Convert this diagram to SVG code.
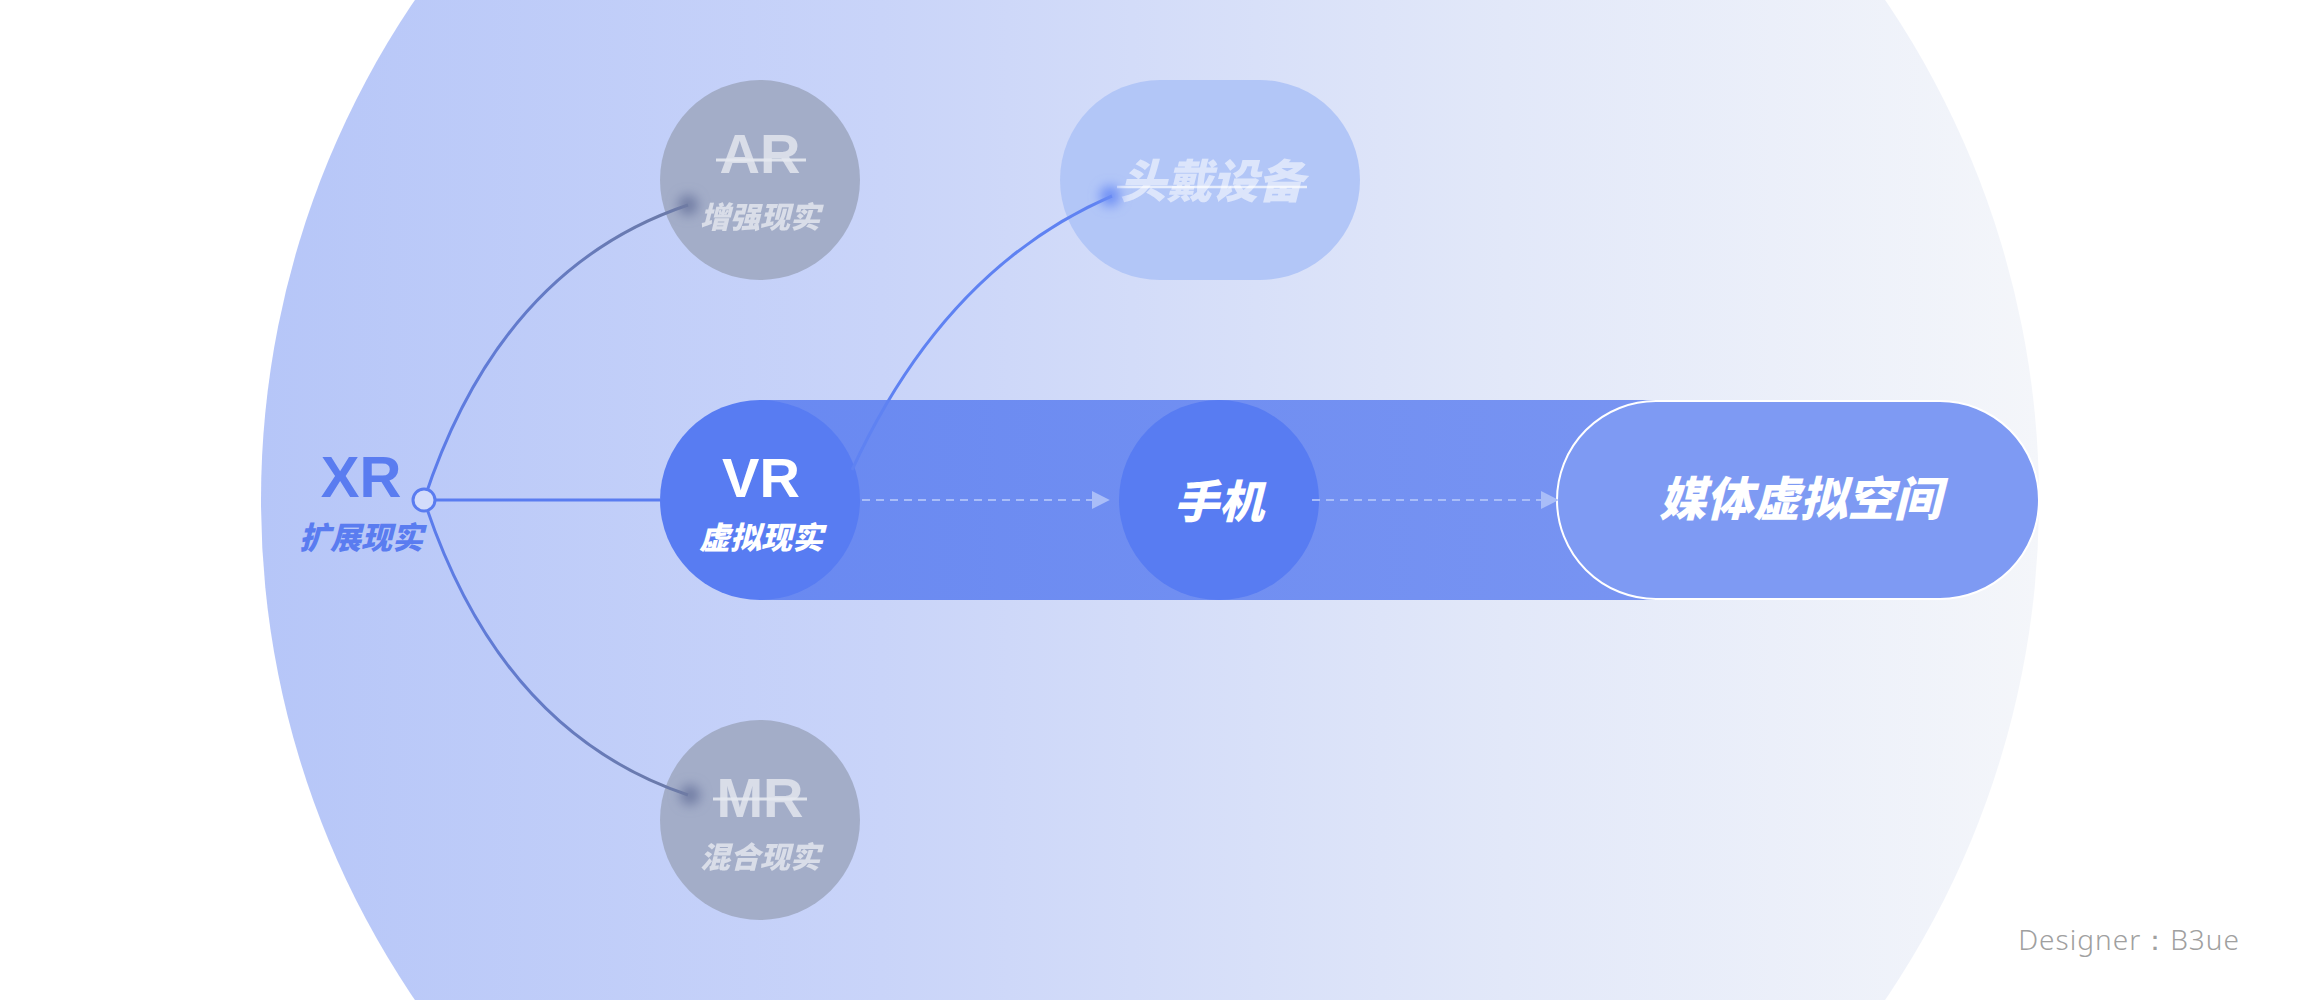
<svg xmlns="http://www.w3.org/2000/svg" width="2300" height="1000" viewBox="0 0 2300 1000">
<defs>
  <linearGradient id="bgGrad" x1="261" y1="0" x2="2039" y2="0" gradientUnits="userSpaceOnUse">
    <stop offset="0" stop-color="#b6c6f8"/>
    <stop offset="0.35" stop-color="#c9d4f9"/>
    <stop offset="0.7" stop-color="#e2e8f9"/>
    <stop offset="1" stop-color="#f4f6fa"/>
  </linearGradient>
  <linearGradient id="bandGrad" x1="760" y1="0" x2="1660" y2="0" gradientUnits="userSpaceOnUse">
    <stop offset="0" stop-color="#6989f1"/>
    <stop offset="1" stop-color="#7894f2"/>
  </linearGradient>
  <linearGradient id="arLine" x1="424" y1="500" x2="690" y2="205" gradientUnits="userSpaceOnUse">
    <stop offset="0" stop-color="#5a7cf0"/>
    <stop offset="1" stop-color="#6c7aa6"/>
  </linearGradient>
  <linearGradient id="mrLine" x1="424" y1="500" x2="690" y2="795" gradientUnits="userSpaceOnUse">
    <stop offset="0" stop-color="#5a7cf0"/>
    <stop offset="1" stop-color="#6c7aa6"/>
  </linearGradient>
  <filter id="blur" x="-2" y="-2" width="5" height="5">
    <feGaussianBlur stdDeviation="6"/>
  </filter>
  <marker id="arrow" viewBox="0 0 10 10" refX="9" refY="5" markerWidth="18" markerHeight="18" markerUnits="userSpaceOnUse" orient="auto">
    <path d="M0 0 L10 5 L0 10 Z" fill="#a9bdf8"/>
  </marker>
  <style>
    .en{font-family:"Liberation Sans","Noto Sans",sans-serif;font-weight:700;text-anchor:middle}
    .cn{font-family:"Noto Sans CJK SC","Noto Sans",sans-serif;font-weight:900;font-style:italic;text-anchor:middle}
    .w{fill:#ffffff}
    .ghost{fill:#e3e6ee;opacity:0.85}
    .conn{fill:none;stroke-width:3}
    .dash{fill:none;stroke:#a9bdf8;stroke-width:2;stroke-dasharray:8 6}
  </style>
</defs>

<rect x="0" y="0" width="2300" height="1000" fill="#ffffff"/>
<circle id="bg" cx="1150" cy="500" r="889" fill="url(#bgGrad)"/>

<g id="band">
  <rect x="760" y="400" width="900" height="200" fill="url(#bandGrad)"/>
</g>

<g id="node-xr">
  <text class="en" x="361" y="497" font-size="58" fill="#5a7cf0">XR</text>
  <text class="cn" x="361" y="549" font-size="31" fill="#5a7cf0">扩展现实</text>
</g>

<g id="node-ar">
  <circle cx="760" cy="180" r="100" fill="#a3adc8"/>
  <text class="en ghost" x="760" y="173" font-size="56">AR</text>
  <line x1="716" y1="160" x2="806" y2="160" stroke="#e6e9f0" stroke-width="3" opacity="0.9"/>
  <text class="cn ghost" x="760" y="228" font-size="30">增强现实</text>
</g>

<g id="node-mr">
  <circle cx="760" cy="820" r="100" fill="#a3adc8"/>
  <text class="en ghost" x="760" y="817" font-size="56">MR</text>
  <line x1="713" y1="799" x2="807" y2="799" stroke="#e6e9f0" stroke-width="3" opacity="0.9"/>
  <text class="cn ghost" x="760" y="868" font-size="30">混合现实</text>
</g>

<g id="node-headset">
  <rect x="1060" y="80" width="300" height="200" rx="100" ry="100" fill="#b2c6f7"/>
  <text class="cn" x="1212" y="198" font-size="46" fill="#ffffff" opacity="0.55">头戴设备</text>
  <line x1="1117" y1="187" x2="1307" y2="187" stroke="#ffffff" stroke-width="2.5" opacity="0.7"/>
</g>

<g id="node-vr">
  <circle cx="760" cy="500" r="100" fill="#587cf2"/>
  <text class="en w" x="761" y="497" font-size="56">VR</text>
  <text class="cn w" x="761" y="549" font-size="31">虚拟现实</text>
</g>

<g id="node-phone">
  <circle cx="1219" cy="500" r="100" fill="#587cf2"/>
  <text class="cn w" x="1219" y="518" font-size="45">手机</text>
</g>

<g id="node-space">
  <rect x="1557" y="401" width="482" height="198" rx="99" ry="99" fill="#7e9af3" stroke="#ffffff" stroke-width="2"/>
  <text class="cn w" x="1800" y="516" font-size="47">媒体虚拟空间</text>
</g>

<g id="connectors">
  <path class="conn" d="M424 500 Q500 268 688 205" stroke="url(#arLine)"/>
  <path class="conn" d="M424 500 Q500 732 688 795" stroke="url(#mrLine)"/>
  <line class="conn" x1="436" y1="500" x2="660" y2="500" stroke="#5a7cf0"/>
  <path class="conn" d="M852 470 Q945 268 1112 196" stroke="#5f82f2"/>
  <circle cx="688" cy="205" r="10" fill="#6f7ba3" filter="url(#blur)"/>
  <circle cx="690" cy="795" r="10" fill="#6f7ba3" filter="url(#blur)"/>
  <circle cx="1110" cy="196" r="10" fill="#6a8cf5" filter="url(#blur)"/>
  <line class="dash" x1="862" y1="500" x2="1108" y2="500" marker-end="url(#arrow)"/>
  <line class="dash" x1="1312" y1="500" x2="1557" y2="500" marker-end="url(#arrow)"/>
  <circle cx="424" cy="500" r="11" fill="#d3dcfb" stroke="#5a7cf0" stroke-width="3"/>
</g>

<text x="2240" y="950" font-family="Noto Sans, Inter, sans-serif" font-weight="300" font-size="28" letter-spacing="1" fill="#a0a0a0" text-anchor="end">Designer：B3ue</text>
</svg>
